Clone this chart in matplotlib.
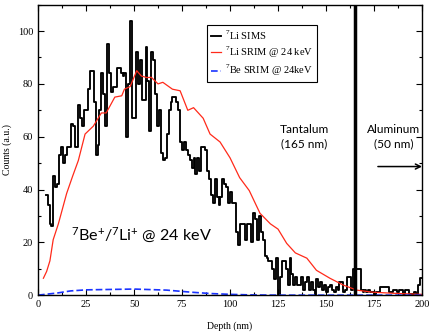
import numpy as np
import matplotlib
matplotlib.use("Agg")
import matplotlib.pyplot as plt
from matplotlib.ticker import MultipleLocator

plt.rcParams['mathtext.fontset'] = 'custom'
plt.rcParams['mathtext.rm'] = 'Liberation Serif'
plt.rcParams['mathtext.sf'] = 'Lato'
plt.rcParams['font.family'] = ['Liberation Serif', 'DejaVu Serif']

# ---- data ----
sims_start = 4          # first bin left edge (nm), 1 nm bins
sims_counts = [
    38, 34, 27, 26, 45, 41, 42, 53, 56, 50, 53, 56, 56, 65, 64, 56, 56, 72, 67, 64,
    70, 70, 78, 85, 85, 73, 53, 57, 70, 84, 76, 64, 95, 84, 77, 79, 79, 86, 86, 84,
    83, 84, 60, 80, 104, 67, 67, 92, 80, 89, 74, 74, 94, 81, 62, 92, 89, 76, 64, 70,
    54, 51, 52, 61, 70, 73, 75, 75, 73, 70, 58, 55, 58, 55, 53, 51, 48, 52, 46, 52,
    47, 56, 56, 55, 47, 44, 38, 35, 44, 37, 34, 37, 44, 42, 41, 35, 39, 35, 35, 24,
    19, 27, 27, 27, 21, 27, 27, 20, 31, 29, 21, 30, 24, 21, 15, 14, 13, 13, 10, 6,
    14, 0, 7, 13, 13, 10, 4, 14, 8, 4, 7, 4, 4, 7, 2, 5, 7, 2, 5, 2,
    0, 6, 3, 5, 2, 4, 1, 3, 4, 2, 1, 3, 2, 5, 5, 1, 2, 7, 7, 2,
    10, 10, 10, 10, 2, 1, 2, 1, 2, 1, 1, 0, 1, 1, 3, 3, 3, 3, 3, 1,
    1, 2, 2, 1, 2, 2, 0.5, 2, 2, 0.5, 0.5, 0.5, 1, 0.5, 4, 6.5,
]

li_srim_depth = [2.8, 4.5, 6.2, 7.9, 10.6, 14.9, 18, 21, 24.5, 28.8, 33, 35.5, 40, 43.6,
                 45, 48, 51.4, 53.8, 56.6, 59, 62.5, 65, 70, 74, 78, 81, 86, 89.6, 94.8,
                 100, 105, 110, 115.6, 121, 125, 129.5, 134, 140, 145, 152, 159, 166,
                 174.5, 188, 200]
li_srim_counts = [6.4, 9, 13, 21, 27, 38.5, 45, 51, 61, 64, 69, 69, 75, 75.5,
                  78, 79, 85, 83, 82.4, 82.5, 80, 80.6, 78, 77.4, 70, 71, 67, 61, 58,
                  52, 44.5, 39.6, 31, 27, 25, 19.6, 16, 14, 9.4, 6.4, 3.8, 1.9,
                  1.1, 0.6, 0.3]

be_srim_depth = [0, 10, 17, 25, 50, 67, 80, 90, 100, 110, 125, 200]
be_srim_counts = [0, 0.8, 1.6, 2.0, 2.3, 1.9, 1.1, 0.6, 0.3, 0.1, 0.0, 0.0]

ta_boundary = 165
arrow_y = 48.7
arrow_from = 177

# ---- figure ----
fig = plt.figure(figsize=(4.32, 3.35), dpi=100)
ax = fig.add_axes([0.088, 0.119, 0.889, 0.867])

edges = sims_start + np.arange(len(sims_counts) + 1)
vals = list(sims_counts) + [sims_counts[-1]]
ax.step(edges, vals, where='post', color='black', lw=1.35, label=r'$^{7}$Li SIMS')
ax.plot(li_srim_depth, li_srim_counts, color='#ff2a1a', lw=0.9,
        label=r'$^{7}$Li SRIM @ 24 keV')
ax.plot(be_srim_depth, be_srim_counts, color='#1a33ff', lw=1.2, dashes=(4, 1.8),
        label=r'$^{7}$Be SRIM @ 24keV')

ax.axvline(ta_boundary, color='black', lw=2.5)
ax.annotate('', xy=(200, arrow_y), xytext=(arrow_from, arrow_y),
            arrowprops=dict(arrowstyle='->', lw=1.1, color='black',
                            shrinkA=0, shrinkB=0, mutation_scale=9))

ax.text(138.5, 60, 'Tantalum\n(165 nm)', ha='center', va='center',
        family='Lato', fontsize=8.6, linespacing=1.4)
ax.text(185, 60, 'Aluminum\n(50 nm)', ha='center', va='center',
        family='Lato', fontsize=8.6, linespacing=1.4)
ax.text(54, 22.6, r'$\mathsf{^{7}Be^{+}/^{7}Li^{+}}$ @ 24 keV', ha='center',
        va='center', family='Lato', fontsize=11.6)

ax.set_xlim(0, 200)
ax.set_ylim(0, 110)
ax.xaxis.set_major_locator(MultipleLocator(25))
ax.xaxis.set_minor_locator(MultipleLocator(12.5))
ax.yaxis.set_major_locator(MultipleLocator(20))
ax.yaxis.set_minor_locator(MultipleLocator(10))
ax.tick_params(which='both', direction='in', top=True, right=True, labelsize=7.5,
               width=0.8)
ax.tick_params(which='major', length=4)
ax.tick_params(which='minor', length=2.5)
for s in ax.spines.values():
    s.set_linewidth(1.0)

ax.set_xlabel('Depth (nm)', fontsize=7, labelpad=9)
ax.set_ylabel('Counts (a.u.)', fontsize=7)
ax.yaxis.set_label_coords(-0.068, 0.5)

leg = ax.legend(loc='upper left', bbox_to_anchor=(0.44, 0.93), fontsize=7.5,
                frameon=True, fancybox=False, edgecolor='black', framealpha=1,
                handlelength=1.0, handletextpad=0.4, labelspacing=0.3,
                borderpad=0.35, borderaxespad=0)
leg.get_frame().set_linewidth(0.8)

fig.savefig('out.png', dpi=100)
